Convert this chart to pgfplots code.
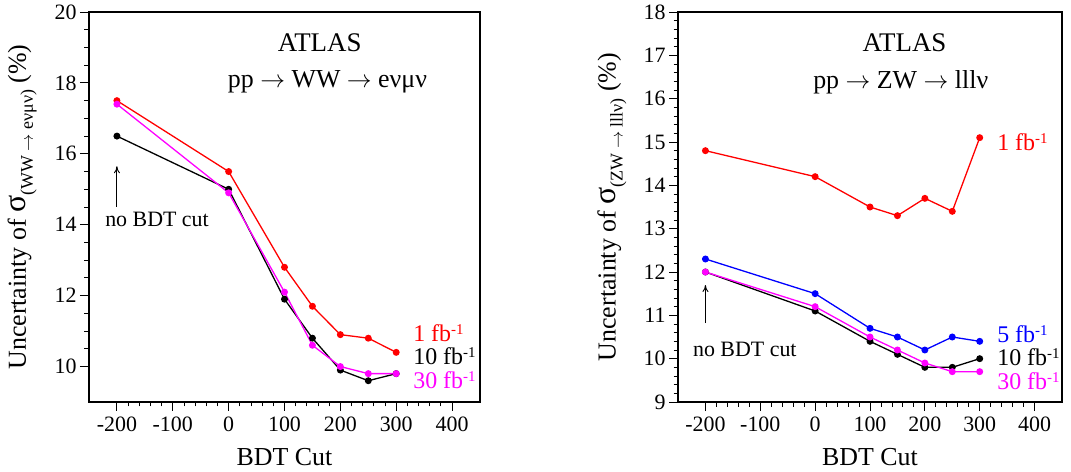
\documentclass[border=0pt]{standalone}
\usepackage{fontspec}
\setmainfont{Liberation Serif}
\usepackage{pgfplots}
\pgfplotsset{compat=1.18}
\usetikzlibrary{arrows.meta}
\definecolor{cred}{RGB}{255,0,0}
\definecolor{cmag}{RGB}{255,0,255}
\definecolor{cblue}{RGB}{0,0,255}
\newcommand{\bigf}{\fontsize{26}{30}\selectfont}
\newcommand{\legf}{\fontsize{24}{26}\selectfont}
\newcommand{\tickf}{\fontsize{22}{26}\selectfont}
\newcommand{\fbi}{fb\raisebox{7bp}{\fontsize{15}{16}\selectfont -1}}
\begin{document}
\begin{tikzpicture}
\useasboundingbox (0,0) rectangle (1071bp,472bp);
\pgfplotsset{
  myaxis/.style={
    scale only axis, height=390bp,
    xmin=-250, xmax=450,
    xtick={-200,-100,0,100,200,300,400},
    minor x tick num=4,
    xtick pos=left, ytick pos=left,
    tick align=outside,
    major tick length=9bp, minor tick length=4.5bp,
    axis line style={line width=1.1bp},
    every tick/.style={line width=0.9bp, black},
    /pgf/number format/assume math mode=true,
    tick label style={font=\tickf},
    xticklabel style={yshift=-2bp},
    label style={font=\bigf},
    xlabel={BDT Cut},
    xlabel style={at={(axis description cs:0.5,-0.141)}, anchor=center},
    ylabel style={at={(axis description cs:-0.171,0.5)}, anchor=center, rotate=0},
    every axis plot/.append style={line width=1.3bp, mark=*, mark size=2.8bp},
    clip=false,
  }
}
% Left panel
\begin{axis}[myaxis, at={(89bp,70bp)}, anchor=south west, width=391bp,
  ymin=9, ymax=20, ytick={10,12,14,16,18,20}, minor y tick num=3,
  ylabel={Uncertainty of {\fontsize{32}{34}\selectfont σ}\raisebox{-7bp}{\fontsize{18}{20}\selectfont (WW $\rightarrow$ eνμν)} (\%)}]
\addplot[cred, mark options={fill=cred}] coordinates {(-200,17.5) (0,15.5) (100,12.8) (150,11.7) (200,10.9) (250,10.8) (300,10.4)};
\addplot[black, mark options={fill=black}] coordinates {(-200,16.5) (0,15.0) (100,11.9) (150,10.8) (200,9.9) (250,9.6) (300,9.8)};
\addplot[cmag, mark options={fill=cmag}] coordinates {(-200,17.4) (0,14.9) (100,12.1) (150,10.6) (200,10.0) (250,9.8) (300,9.8)};
\node[font=\fontsize{27}{30}\selectfont] at (rel axis cs:0.59,0.92) {ATLAS};
\node[font=\bigf] at (rel axis cs:0.61,0.82) {pp $\rightarrow$ WW $\rightarrow$ eνμν};
\node[font=\tickf] at (rel axis cs:0.174,0.467) {no BDT cut};
\draw[-{To[length=7bp,width=6bp]}, line width=0.9bp] (axis cs:-200,14.5) -- (axis cs:-200,15.65);
\node[anchor=west, text=cred, font=\legf, inner sep=0pt] at (rel axis cs:0.829,0.177) {1 \fbi};
\node[anchor=west, text=black, font=\legf, inner sep=0pt] at (rel axis cs:0.829,0.117) {10 \fbi};
\node[anchor=west, text=cmag, font=\legf, inner sep=0pt] at (rel axis cs:0.829,0.057) {30 \fbi};
\end{axis}
% Right panel
\begin{axis}[myaxis, at={(678bp,70bp)}, anchor=south west, width=384bp,
  ymin=9, ymax=18, ytick={9,10,...,18}, minor y tick num=4,
  ylabel style={at={(axis description cs:-0.172,0.5)}},
  ylabel={Uncertainty of {\fontsize{32}{34}\selectfont σ}\raisebox{-7bp}{\fontsize{18}{20}\selectfont (ZW $\rightarrow$ lllν)} (\%)}]
\addplot[cred, mark options={fill=cred}] coordinates {(-200,14.8) (0,14.2) (100,13.5) (150,13.3) (200,13.7) (250,13.4) (300,15.1)};
\addplot[cblue, mark options={fill=cblue}] coordinates {(-200,12.3) (0,11.5) (100,10.7) (150,10.5) (200,10.2) (250,10.5) (300,10.4)};
\addplot[black, mark options={fill=black}] coordinates {(-200,12.0) (0,11.1) (100,10.4) (150,10.1) (200,9.8) (250,9.8) (300,10.0)};
\addplot[cmag, mark options={fill=cmag}] coordinates {(-200,12.0) (0,11.2) (100,10.5) (150,10.2) (200,9.9) (250,9.7) (300,9.7)};
\node[font=\fontsize{27}{30}\selectfont] at (rel axis cs:0.59,0.92) {ATLAS};
\node[font=\bigf] at (rel axis cs:0.58,0.82) {pp $\rightarrow$ ZW $\rightarrow$ lllν};
\node[font=\tickf] at (rel axis cs:0.174,0.136) {no BDT cut};
\draw[-{To[length=7bp,width=6bp]}, line width=0.9bp] (axis cs:-200,10.82) -- (axis cs:-200,11.7);
\node[anchor=west, text=cred, font=\legf, inner sep=0pt] at (rel axis cs:0.831,0.667) {1 \fbi};
\node[anchor=west, text=cblue, font=\legf, inner sep=0pt] at (rel axis cs:0.831,0.174) {5 \fbi};
\node[anchor=west, text=black, font=\legf, inner sep=0pt] at (rel axis cs:0.831,0.114) {10 \fbi};
\node[anchor=west, text=cmag, font=\legf, inner sep=0pt] at (rel axis cs:0.831,0.054) {30 \fbi};
\end{axis}
\end{tikzpicture}
\end{document}
